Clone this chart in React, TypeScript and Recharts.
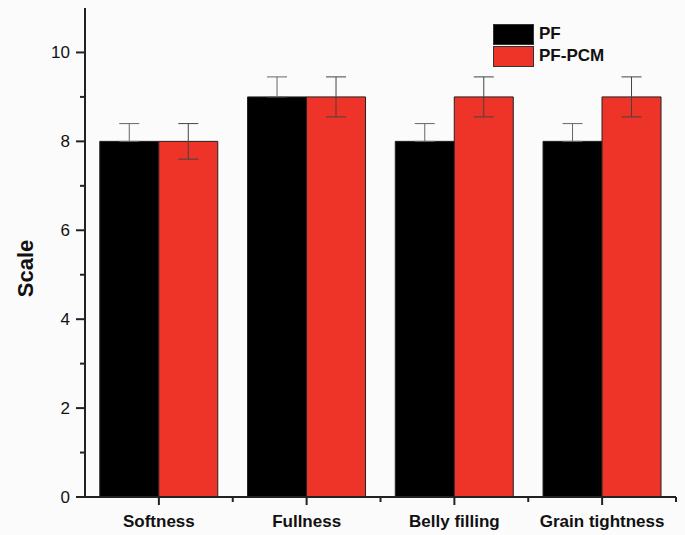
import React from "react";
import {
  BarChart,
  Bar,
  XAxis,
  YAxis,
  ErrorBar,
  Legend,
} from "recharts";

const categories = ["Softness", "Fullness", "Belly filling", "Grain tightness"];
const pfValues = [8, 9, 8, 8];
const pfErrors = [0.4, 0.45, 0.4, 0.4];
const pcmValues = [8, 9, 9, 9];
const pcmErrors = [0.4, 0.45, 0.45, 0.45];
const yTicks = [0, 1, 2, 3, 4, 5, 6, 7, 8, 9, 10];

const W = 685;
const H = 535;
const margin = { top: 8, right: 9, left: 0, bottom: 0 };
const yAxisWidth = 85;
const xAxisHeight = 38;
const bandWidth = (W - margin.right - yAxisWidth) / categories.length;

const font = "'Liberation Sans', Arial, sans-serif";
const RED = "#ee3329";

// PF error bars only show the upper half (lower half sits on the black bar)
const data = categories.map((name, i) => ({
  name,
  pf: pfValues[i],
  pfErr: [0, pfErrors[i]],
  pcm: pcmValues[i],
  pcmErr: pcmErrors[i],
}));

const YTick = (props: any) => {
  const { x, y, payload } = props;
  const major = payload.value % 2 === 0;
  return (
    <g>
      <line x1={x} x2={x - (major ? 9 : 5)} y1={y} y2={y} stroke="#222" strokeWidth={2} />
      {major && (
        <text x={x - 15} y={y} dy={6} textAnchor="end" fontSize={17} fontFamily={font} fill="#111">
          {payload.value}
        </text>
      )}
    </g>
  );
};

const XTick = (props: any) => {
  const { x, y, payload } = props;
  return (
    <g>
      <line x1={x} x2={x} y1={y} y2={y + 8} stroke="#222" strokeWidth={2} />
      <line x1={x + bandWidth / 2} x2={x + bandWidth / 2} y1={y} y2={y + 5} stroke="#222" strokeWidth={2} />
      <text x={x} y={y + 30} textAnchor="middle" fontSize={17} fontWeight="bold" fontFamily={font} fill="#111">
        {payload.value}
      </text>
    </g>
  );
};

const YLabel = (props: any) => {
  const { viewBox } = props;
  const cx = 25;
  const cy = viewBox.y + viewBox.height / 2 + 16;
  return (
    <text
      x={cx}
      y={cy}
      transform={`rotate(-90, ${cx}, ${cy})`}
      textAnchor="middle"
      dominantBaseline="central"
      fontSize={22}
      fontWeight="bold"
      fontFamily={font}
      fill="#111"
    >
      Scale
    </text>
  );
};

const LegendBox = () => (
  <div style={{ fontFamily: font, fontWeight: "bold", fontSize: 17, color: "#111" }}>
    {[
      { label: "PF", color: "#000" },
      { label: "PF-PCM", color: RED },
    ].map((item) => (
      <div key={item.label} style={{ display: "flex", alignItems: "center", height: 22 }}>
        <div
          style={{
            width: 39,
            height: 19,
            background: item.color,
            border: "1px solid #333",
            marginRight: 5,
          }}
        />
        <span>{item.label}</span>
      </div>
    ))}
  </div>
);

const App = () => {
  return (
    <div style={{ position: "absolute", left: 0, top: 0, width: W, height: H, background: "#fbfbfb" }}>
      <BarChart
        width={W}
        height={H}
        data={data}
        margin={margin}
        barCategoryGap="10%"
        barGap={0}
      >
        <XAxis
          dataKey="name"
          height={xAxisHeight}
          axisLine={{ stroke: "#222", strokeWidth: 2 }}
          tickLine={false}
          tickSize={0}
          tickMargin={0}
          tick={<XTick />}
          interval={0}
        />
        <XAxis
          xAxisId="top"
          orientation="top"
          dataKey="name"
          height={0}
          axisLine={{ stroke: "#222", strokeWidth: 2 }}
          tick={false}
          tickLine={false}
        />
        <YAxis
          width={yAxisWidth}
          domain={[0, 11]}
          ticks={yTicks}
          interval={0}
          axisLine={{ stroke: "#222", strokeWidth: 2 }}
          tickLine={false}
          tickSize={0}
          tickMargin={0}
          tick={<YTick />}
          label={<YLabel />}
        />
        <YAxis
          yAxisId="right"
          orientation="right"
          width={0}
          domain={[0, 11]}
          axisLine={{ stroke: "#222", strokeWidth: 2 }}
          tick={false}
          tickLine={false}
        />
        <Legend
          content={<LegendBox />}
          layout="horizontal"
          verticalAlign="middle"
          align="center"
          wrapperStyle={{ top: 23, left: 493, width: 150 }}
        />
        <Bar dataKey="pf" fill="#000" stroke="#222" strokeWidth={1} isAnimationActive={false}>
          <ErrorBar dataKey="pfErr" width={10} stroke="#666" strokeWidth={1} />
        </Bar>
        <Bar dataKey="pcm" fill={RED} stroke="#222" strokeWidth={1} isAnimationActive={false}>
          <ErrorBar dataKey="pcmErr" width={10} stroke="#444" strokeWidth={1} />
        </Bar>
      </BarChart>
    </div>
  );
};

export default App;
